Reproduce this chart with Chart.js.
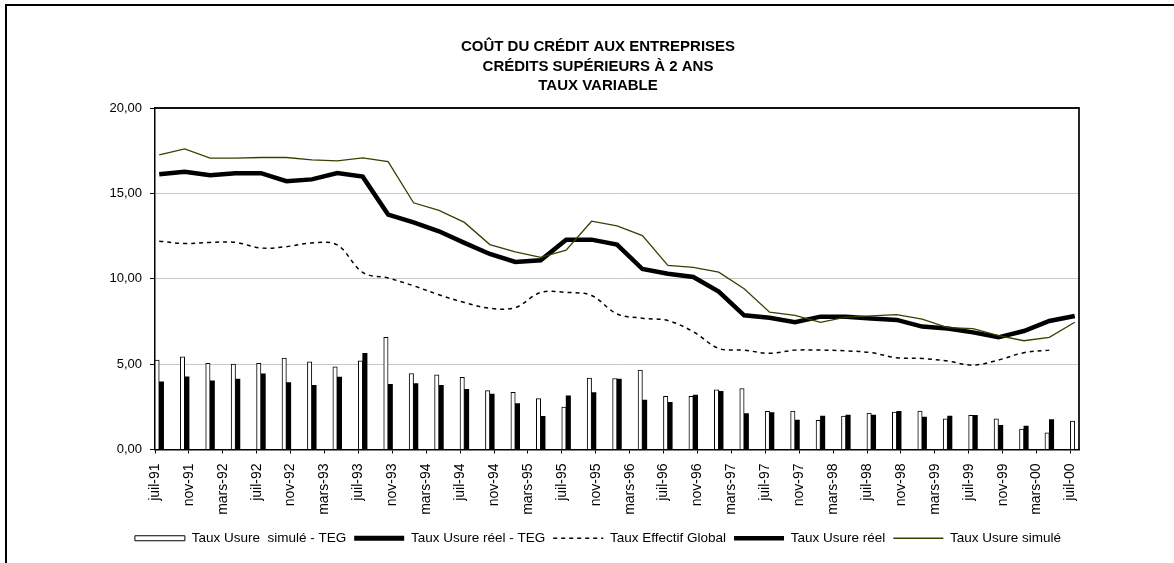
<!DOCTYPE html>
<html>
<head>
<meta charset="utf-8">
<script src="https://cdn.jsdelivr.net/npm/chart.js@4.4.0/dist/chart.umd.min.js"></script>
<style>
  html, body { margin: 0; padding: 0; background: #fff; overflow: hidden; }
  #frame { position: absolute; left: 5px; top: 4px; width: 1300px; height: 700px; border: 2px solid #000; }
  #wrap { position: absolute; left: 0; top: 0; width: 1174px; height: 563px; }
</style>
</head>
<body>
<div id="frame"></div>
<div id="wrap"><canvas id="chart" width="1174" height="563"></canvas></div>
<script>
// quarterly observations, juil-91 .. juil-00
const quarters = ['juil-91','oct-91','janv-92','avr-92','juil-92','oct-92','janv-93','avr-93',
  'juil-93','oct-93','janv-94','avr-94','juil-94','oct-94','janv-95','avr-95','juil-95','oct-95',
  'janv-96','avr-96','juil-96','oct-96','janv-97','avr-97','juil-97','oct-97','janv-98','avr-98',
  'juil-98','oct-98','janv-99','avr-99','juil-99','oct-99','janv-00','avr-00','juil-00']

// axis labels (one every 4 months) and y labels
const tickLabels = ['juil-91','nov-91','mars-92','juil-92','nov-92','mars-93','juil-93','nov-93',
  'mars-94','juil-94','nov-94','mars-95','juil-95','nov-95','mars-96','juil-96','nov-96','mars-97',
  'juil-97','nov-97','mars-98','juil-98','nov-98','mars-99','juil-99','nov-99','mars-00','juil-00']
const yTickLabels = ['0,00','5,00','10,00','15,00','20,00']

const simuleTEG = [5.24,5.43,5.04,5.0,5.04,5.35,5.14,4.84,5.2,6.57,4.45,4.37,4.22,3.45,3.35,2.98,
  2.49,4.18,4.16,4.65,3.12,3.12,3.49,3.57,2.24,2.25,1.71,1.96,2.14,2.19,2.25,1.8,2.0,1.8,1.2,0.98,1.67]
const reelTEG = [3.96,4.25,4.02,4.12,4.43,3.92,3.76,4.24,5.63,3.82,3.86,3.76,3.53,3.24,2.69,1.94,
  3.14,3.33,4.12,2.9,2.76,3.18,3.41,2.1,2.16,1.72,1.96,2.02,2.02,2.24,1.9,1.96,2.0,1.41,1.37,1.75,null]
const tauxEffectif = [12.2,12.06,12.13,12.13,11.8,11.88,12.1,11.98,10.37,10.04,9.59,9.06,8.61,8.27,
  8.31,9.2,9.2,9.02,7.94,7.69,7.55,6.9,5.92,5.82,5.63,5.82,5.82,5.78,5.67,5.37,5.33,5.18,4.94,5.24,
  5.67,5.82,null]
const usureReel = [16.12,16.27,16.06,16.18,16.18,15.71,15.82,16.19,15.98,13.76,13.3,12.78,12.1,11.45,
  10.98,11.08,12.29,12.29,12.0,10.57,10.29,10.1,9.25,7.86,7.71,7.45,7.78,7.78,7.67,7.59,7.2,7.08,
  6.86,6.57,6.94,7.53,7.82]
const usureSimule = [17.25,17.6,17.06,17.07,17.1,17.1,16.96,16.9,17.08,16.86,14.45,14.0,13.3,12.0,
  11.57,11.25,11.67,13.37,13.1,12.53,10.78,10.67,10.39,9.41,8.04,7.86,7.45,7.75,7.82,7.9,7.63,7.14,
  7.08,6.67,6.37,6.57,7.45]

// months since juil-91, placed mid-month like the date axis does
function pts(vals) {
  return quarters.map((q, i) => ({ x: i * 3 + 0.5, y: vals[i] }))
}

Chart.defaults.font.family = '"Liberation Sans", Arial, sans-serif'
Chart.defaults.color = '#000'

// top and right edges of the plot area
const plotFrame = {
  id: 'plotFrame',
  afterDatasetsDraw(chart) {
    const a = chart.chartArea
    const c = chart.ctx
    c.save()
    c.strokeStyle = '#111'
    c.lineWidth = 1.8
    c.beginPath()
    c.moveTo(a.left, a.top)
    c.lineTo(a.right, a.top)
    c.lineTo(a.right, a.bottom)
    c.stroke()
    c.restore()
  }
}

new Chart(document.getElementById('chart'), {
  type: 'bar',
  data: {
    datasets: [
      {
        label: 'Taux Usure  simulé - TEG',
        data: pts(simuleTEG),
        backgroundColor: '#fff',
        borderColor: '#000',
        borderWidth: 1,
        barThickness: 4.4,
        pointStyle: 'rect',
        order: 2
      },
      {
        label: 'Taux Usure réel - TEG',
        data: pts(reelTEG),
        backgroundColor: '#000',
        borderColor: '#000',
        borderWidth: 0,
        barThickness: 4.4,
        pointStyle: 'rect',
        order: 2
      },
      {
        type: 'line',
        label: 'Taux Effectif Global',
        data: pts(tauxEffectif),
        borderColor: '#000',
        borderWidth: 1.5,
        borderDash: [4, 4],
        tension: 0.35,
        pointRadius: 0,
        pointStyle: 'line',
        order: 1
      },
      {
        type: 'line',
        label: 'Taux Usure réel',
        data: pts(usureReel),
        borderColor: '#000',
        borderWidth: 4.5,
        tension: 0,
        pointRadius: 0,
        pointStyle: 'line',
        order: 1
      },
      {
        type: 'line',
        label: 'Taux Usure simulé',
        data: pts(usureSimule),
        borderColor: '#3d3d00',
        borderWidth: 1.3,
        tension: 0,
        pointRadius: 0,
        pointStyle: 'line',
        order: 0
      }
    ]
  },
  options: {
    responsive: false,
    animation: false,
    layout: { padding: { left: 109, right: 87, top: 0, bottom: 8 }, autoPadding: false },
    plugins: {
      title: {
        display: true,
        text: ['COÛT DU CRÉDIT AUX ENTREPRISES', 'CRÉDITS SUPÉRIEURS À 2 ANS', 'TAUX VARIABLE'],
        color: '#000',
        font: { size: 15, weight: 'bold', lineHeight: 1.3 },
        padding: { top: 37.25, bottom: 12.25 }
      },
      legend: {
        position: 'bottom',
        labels: {
          usePointStyle: true,
          pointStyleWidth: 50,
          boxHeight: 5,
          padding: 8,
          color: '#000',
          font: { size: 13.5 },
          sort: (a, b) => a.datasetIndex - b.datasetIndex,
          generateLabels(chart) {
            const items = Chart.defaults.plugins.legend.labels.generateLabels(chart)
            items.forEach((it) => {
              const ds = chart.data.datasets[it.datasetIndex]
              if (ds.borderDash) it.lineDash = ds.borderDash
            })
            return items
          }
        }
      },
      tooltip: { enabled: false }
    },
    scales: {
      x: {
        type: 'linear',
        min: 0,
        max: 109,
        offset: false,
        afterFit: (s) => { s.height = 74 },
        grid: { offset: false, drawOnChartArea: false, drawTicks: true, tickLength: 4, color: '#000', tickColor: '#000' },
        border: { color: '#000', width: 1.5 },
        ticks: {
          stepSize: 4,
          includeBounds: false,
          autoSkip: false,
          maxRotation: 90,
          minRotation: 90,
          padding: 10,
          font: { size: 14 },
          callback: (v) => tickLabels[Math.round(v / 4)]
        }
      },
      y: {
        min: 0,
        max: 20,
        afterFit: (s) => { s.width = 46 },
        grid: {
          color: (ctx) => (ctx.tick && (ctx.tick.value === 0 || ctx.tick.value === 20)) ? 'rgba(0,0,0,0)' : '#c8c8c8',
          tickColor: '#000',
          tickLength: 5,
          lineWidth: 1
        },
        border: { color: '#000', width: 1.5 },
        ticks: {
          stepSize: 5,
          padding: 8,
          font: { size: 13 },
          callback: (v, i) => yTickLabels[i]
        }
      },
      // empty right-hand spacer so title and legend centre where the original does
      yRight: {
        position: 'right',
        min: 0,
        max: 20,
        afterFit: (s) => { s.width = 8 },
        grid: { display: false },
        border: { display: false },
        ticks: { display: false }
      }
    }
  },
  plugins: [plotFrame]
})
</script>
</body>
</html>
